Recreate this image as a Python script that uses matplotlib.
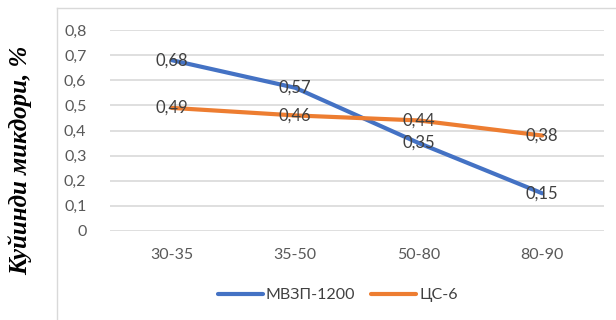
import matplotlib
matplotlib.use("Agg")
import matplotlib.pyplot as plt
from matplotlib.lines import Line2D

# Data: residue amount by fraction size
categories = ["30-35", "35-50", "50-80", "80-90"]
mvzp_1200 = [0.68, 0.57, 0.35, 0.15]
cs_6 = [0.49, 0.46, 0.44, 0.38]
yticks = [0, 0.1, 0.2, 0.3, 0.4, 0.5, 0.6, 0.7, 0.8]

BLUE = "#4472C4"
ORANGE = "#ED7D31"
GRID = "#D9D9D9"
TEXT = "#404040"
TICK = "#595959"

plt.rcParams['font.family'] = ['Lato', 'DejaVu Sans']

fig = plt.figure(figsize=(6.16, 3.2), dpi=100)
ax = fig.add_axes([110 / 616, 89 / 320, 494 / 616, 201 / 320])

x = range(len(categories))
ax.plot(x, mvzp_1200, color=BLUE, lw=3, solid_capstyle="round", label="МВЗП-1200", zorder=3)
ax.plot(x, cs_6, color=ORANGE, lw=3, solid_capstyle="round", label="ЦС-6", zorder=3)

# value labels centred on each point
for series in (mvzp_1200, cs_6):
    for i, v in enumerate(series):
        ax.text(i, v, f"{v:.2f}".replace(".", ","), ha="center", va="center",
                fontsize=12, color=TEXT, zorder=4)

ax.set_xlim(-0.5, len(categories) - 0.5)
ax.set_ylim(0, 0.8)
ax.set_yticks(yticks)
ax.set_yticklabels(["0" if t == 0 else f"{t:.1f}".replace(".", ",") for t in yticks])
ax.set_xticks(list(x))
ax.set_xticklabels(categories)
ax.tick_params(axis="both", length=0, labelsize=11.5, labelcolor=TICK)
ax.tick_params(axis="x", pad=12)
ax.tick_params(axis="y", pad=17)
ax.grid(axis="y", color=GRID, lw=1.2)
ax.set_axisbelow(True)
for s in ax.spines.values():
    s.set_visible(False)

fig.legend(loc="center", bbox_to_anchor=(338 / 616, 25 / 320), ncol=2, frameon=False,
           fontsize=11.5, handlelength=2.8, handletextpad=0.2, columnspacing=1.0,
           labelcolor=TEXT)

fig.text(20 / 616, 160 / 320, "Куйинди микдори, %", rotation=90, ha="center", va="center",
         family="Liberation Serif", fontweight="bold", fontstyle="italic", fontsize=18)

# chart area border (top and left edges)
fig.add_artist(Line2D([57 / 616, 1], [312 / 320, 312 / 320], color=GRID, lw=1))
fig.add_artist(Line2D([57 / 616, 57 / 616], [0, 312 / 320], color=GRID, lw=1))

fig.savefig("out.png", dpi=100)
